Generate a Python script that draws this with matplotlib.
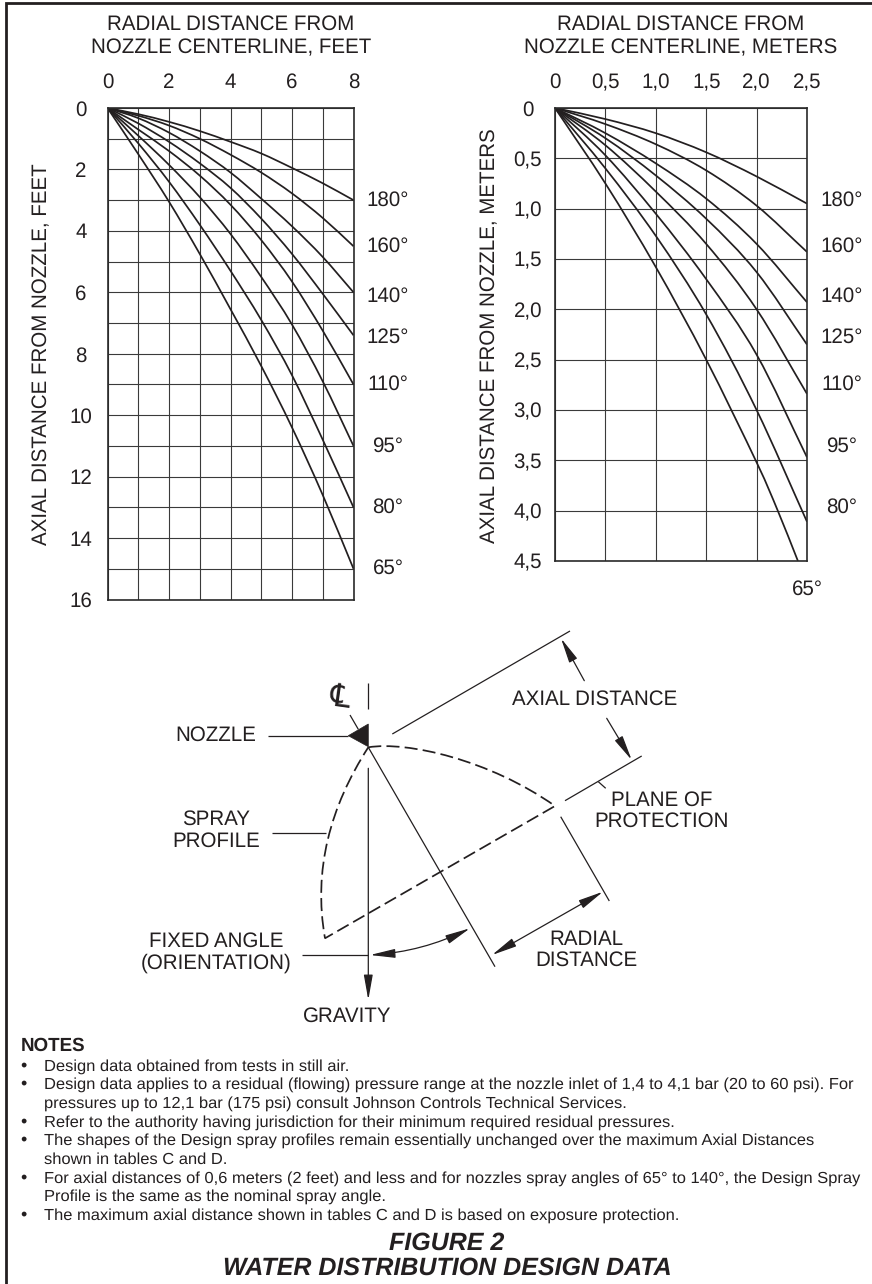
import matplotlib
matplotlib.use("Agg")
import matplotlib.pyplot as plt
from matplotlib.patches import FancyArrowPatch, PathPatch, Polygon
from matplotlib.path import Path
import numpy as np

plt.rcParams["font.family"] = ["Liberation Sans", "DejaVu Sans"]
plt.rcParams["text.hinting"] = "no_hinting"

W, H = 872, 1284
INK = "#231f20"
SIZE = 14.8

# Data sets
angles = ["180°", "160°", "140°", "125°", "110°", "95°", "80°", "65°"]

feet_x = [0, 1, 2, 3, 4, 5, 6, 7, 8]
feet_y = [
    [0, 0.20, 0.45, 0.75, 1.10, 1.48, 1.95, 2.45, 3.0],
    [0, 0.25, 0.57, 1.00, 1.52, 2.10, 2.78, 3.58, 4.5],
    [0, 0.33, 0.80, 1.40, 2.10, 2.95, 3.85, 4.85, 6.0],
    [0, 0.50, 1.10, 1.80, 2.60, 3.60, 4.75, 6.05, 7.4],
    [0, 0.70, 1.40, 2.20, 3.15, 4.30, 5.65, 7.25, 9.0],
    [0, 0.90, 1.85, 2.90, 4.10, 5.50, 7.05, 8.90, 11.0],
    [0, 1.15, 2.40, 3.80, 5.30, 6.90, 8.70, 10.80, 13.0],
    [0, 1.50, 3.05, 4.75, 6.55, 8.40, 10.40, 12.60, 15.0],
]

meters_x = [0, 0.5, 1.0, 1.5, 2.0, 2.5]
meters_y = [
    [0, 0.11, 0.25, 0.44, 0.68, 0.95],
    [0, 0.16, 0.36, 0.62, 0.97, 1.43],
    [0, 0.25, 0.55, 0.90, 1.35, 1.93],
    [0, 0.30, 0.67, 1.10, 1.63, 2.35],
    [0, 0.37, 0.83, 1.35, 2.00, 2.84],
    [0, 0.47, 1.05, 1.70, 2.45, 3.47],
    [0, 0.60, 1.27, 2.05, 3.00, 4.11],
]
# 65 degree curve leaves the chart through the bottom edge
m65_x = [0, 0.5, 1.0, 1.5, 2.0, 2.21, 2.41]
m65_y = [0, 0.75, 1.58, 2.50, 3.52, 4.00, 4.50]

feet_xticks = [0, 2, 4, 6, 8]
feet_yticks = [0, 2, 4, 6, 8, 10, 12, 14, 16]
meter_xticks = [0, 0.5, 1.0, 1.5, 2.0, 2.5]
meter_yticks = [0, 0.5, 1.0, 1.5, 2.0, 2.5, 3.0, 3.5, 4.0, 4.5]

label_rows = [200, 246, 296, 337, 384, 446, 507]

notes = [
    ["Design data obtained from tests in still air."],
    ["Design data applies to a residual (flowing) pressure range at the nozzle inlet of 1,4 to 4,1 bar (20 to 60 psi). For",
     "pressures up to 12,1 bar (175 psi) consult Johnson Controls Technical Services."],
    ["Refer to the authority having jurisdiction for their minimum required residual pressures."],
    ["The shapes of the Design spray profiles remain essentially unchanged over the maximum Axial Distances",
     "shown in tables C and D."],
    ["For axial distances of 0,6 meters (2 feet) and less and for nozzles spray angles of 65° to 140°, the Design Spray",
     "Profile is the same as the nominal spray angle."],
    ["The maximum axial distance shown in tables C and D is based on exposure protection."],
]


def comma(v):
    return "0" if v == 0 else f"{v:.1f}".replace(".", ",")


def make_chart(box, xmax, ymax):
    # box is left, top, right, bottom in pixels
    l, t, r, b = box
    ax = fig.add_axes([l / W, 1 - b / H, (r - l) / W, (b - t) / H])
    ax.set_xlim(0, xmax)
    ax.set_ylim(ymax, 0)
    ax.xaxis.tick_top()
    ax.tick_params(axis="both", which="both", length=0, labelsize=SIZE, labelcolor=INK)
    ax.grid(True, which="both", color="#3a3a3a", linewidth=0.8)
    ax.set_axisbelow(True)
    for s in ax.spines.values():
        s.set_linewidth(1.2)
        s.set_color("#2a2a2a")
    return ax


def draw_curve(ax, xs, ys):
    # smooth Bezier through the read points (Catmull-Rom handles)
    xs = np.asarray(xs, float)
    ys = np.asarray(ys, float)
    tx = np.gradient(xs)
    ty = np.gradient(ys)
    verts = [(xs[0], ys[0])]
    codes = [Path.MOVETO]
    for i in range(len(xs) - 1):
        verts.append((xs[i] + tx[i] / 3, ys[i] + ty[i] / 3))
        verts.append((xs[i + 1] - tx[i + 1] / 3, ys[i + 1] - ty[i + 1] / 3))
        verts.append((xs[i + 1], ys[i + 1]))
        codes += [Path.CURVE4, Path.CURVE4, Path.CURVE4]
    ax.add_patch(PathPatch(Path(verts, codes), facecolor="none", edgecolor=INK, linewidth=1.25))


fig = plt.figure(figsize=(W / 100, H / 100), dpi=100)

# Feet chart
ax1 = make_chart((107.5, 108, 353.5, 599.5), 8, 16)
ax1.set_xticks(feet_xticks)
ax1.set_yticks(feet_yticks)
ax1.set_xticks(range(0, 9), minor=True)
ax1.set_yticks(range(0, 17), minor=True)
ax1.set_xticklabels([str(v) for v in feet_xticks], va="baseline")
ax1.set_yticklabels([str(v) for v in feet_yticks], ha="center")
ax1.tick_params(axis="x", pad=14.4)
ax1.tick_params(axis="y", pad=19)
for ys in feet_y:
    draw_curve(ax1, feet_x, ys)

# Meters chart
ax2 = make_chart((555, 108, 807, 561), 2.5, 4.5)
ax2.set_xticks(meter_xticks)
ax2.set_yticks(meter_yticks)
ax2.set_xticklabels([comma(v) for v in meter_xticks], va="baseline")
ax2.set_yticklabels([comma(v) for v in meter_yticks], ha="center")
ax2.tick_params(axis="x", pad=14.4)
ax2.tick_params(axis="y", pad=19.5)
for ys in meters_y:
    draw_curve(ax2, meters_x, ys)
draw_curve(ax2, m65_x, m65_y)

# Overlay in pixel units for the text and the spray diagram
ov = fig.add_axes([0, 0, 1, 1], facecolor="none")
ov.set_xlim(0, W)
ov.set_ylim(H, 0)
ov.axis("off")

# page frame
ov.plot([6, 6, W], [H, 3, 3], color=INK, linewidth=2.0, solid_joinstyle="miter")


def label(x, y, s, size=SIZE, **kw):
    kw.setdefault("ha", "center")
    kw.setdefault("va", "center")
    ov.text(x, y, s, fontsize=size, color=INK, **kw)


label(231, 24, "RADIAL DISTANCE FROM")
label(231, 48, "NOZZLE CENTERLINE, FEET")
label(681, 24, "RADIAL DISTANCE FROM")
label(681, 48, "NOZZLE CENTERLINE, METERS")
label(42, 354, "AXIAL DISTANCE FROM NOZZLE, FEET", rotation=90)
label(490, 335.5, "AXIAL DISTANCE FROM NOZZLE, METERS", rotation=90)

for y, a in zip(label_rows + [568], angles):
    label(388, y, a)
for y, a in zip(label_rows, angles):
    label(842, y, a)
label(807, 589, angles[-1])


# Spray diagram, coordinates are pixels on the page
def seg(x0, y0, x1, y1, lw=0.9, **kw):
    ov.plot([x0, x1], [y0, y1], color=INK, linewidth=lw, solid_capstyle="butt", **kw)


def arrow(p0, p1, style="-|>", rad=0.0):
    head = style + ",head_length=0.9,head_width=0.16"
    ov.add_patch(FancyArrowPatch(p0, p1, arrowstyle=head, mutation_scale=17,
                                 connectionstyle=f"arc3,rad={rad}", color=INK,
                                 linewidth=0.9, shrinkA=0, shrinkB=0))


ov.add_patch(Polygon([(368.3, 724), (348.3, 735.7), (368.3, 746.7)], closed=True,
                     facecolor=INK, edgecolor=INK, linewidth=0.5))
seg(368.3, 682.7, 368.3, 709.3)
arrow((368.3, 768.3), (368.3, 1000))
seg(350, 715, 358.3, 729.3)
seg(368.3, 747.3, 495, 966.7)
seg(392.3, 734, 570, 631)
arrow((584.3, 680.7), (561, 638.3))
arrow((606.7, 718.3), (631.7, 760))
seg(565, 800.7, 641.7, 756)
seg(598.3, 781.7, 605.7, 788.3)
seg(560.7, 816.7, 609.3, 901)
arrow((492, 955), (603, 891.7), style="<|-|>")
arrow((370, 955), (470, 928.3), style="<|-|>", rad=0.1)
seg(301.7, 955, 368.3, 955)
seg(272.3, 832.7, 326, 832.7)
seg(268.3, 735.7, 348.3, 735.7)

spray = Path(
    [(368.3, 747.3), (407, 741), (490, 760), (555, 806),
     (325, 938.3),
     (313, 870), (330, 807), (368.3, 747.3)],
    [Path.MOVETO, Path.CURVE4, Path.CURVE4, Path.CURVE4,
     Path.LINETO,
     Path.CURVE4, Path.CURVE4, Path.CURVE4],
)
ov.add_patch(PathPatch(spray, facecolor="none", edgecolor=INK, linewidth=1.25,
                       linestyle=(0, (7.5, 3.0))))

ov.text(340, 698, "\u2104", fontsize=23, color=INK, ha="center", va="center",
        family="DejaVu Sans", rotation=-8)

label(216, 735.7, "NOZZLE")
label(216, 830.5, "SPRAY\nPROFILE", linespacing=1.12)
label(216, 952.5, "FIXED ANGLE\n(ORIENTATION)", linespacing=1.12)
label(595, 699, "AXIAL DISTANCE")
label(662, 811, "PLANE OF\nPROTECTION", linespacing=1.12)
label(586, 950, "RADIAL\nDISTANCE", linespacing=1.12)
label(347, 1016, "GRAVITY")

# Notes block
label(20.7, 1046, "NOTES", 13.5, ha="left", fontweight="bold")
rows = [1066.7, 1085, 1104, 1122.7, 1141, 1160, 1178.5, 1197, 1215.7]
i = 0
for note in notes:
    label(23, rows[i] - 1, "•", 13, ha="center")
    for line in note:
        label(44.3, rows[i], line, 11.85, ha="left")
        i += 1

label(447, 1243, "FIGURE 2", 18, fontweight="bold", fontstyle="italic")
label(447, 1268, "WATER DISTRIBUTION DESIGN DATA", 18, fontweight="bold", fontstyle="italic")

fig.savefig("out.png", dpi=100)
